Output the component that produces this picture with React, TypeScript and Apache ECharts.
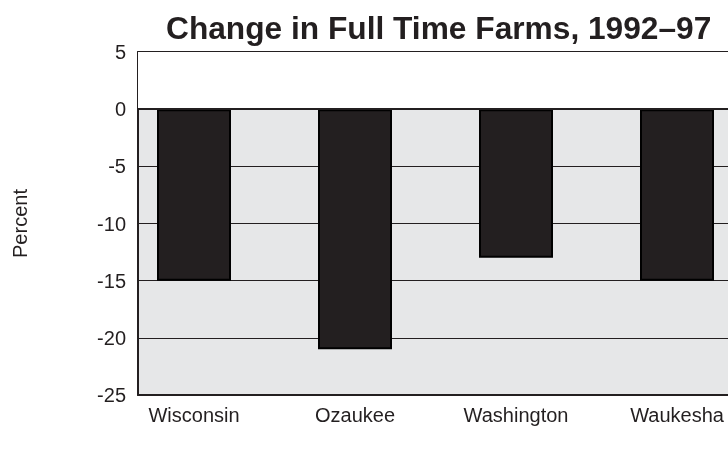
import React, { useEffect, useRef } from "react";
import * as echarts from "echarts";

const titleText = "Change in Full Time Farms, 1992–97";
const categories = ["Wisconsin", "Ozaukee", "Washington", "Waukesha"];
const values = [-15, -21, -13, -15];
const yMin = -25;
const yMax = 5;
const yStep = 5;

export default function App() {
  const ref = useRef<HTMLDivElement>(null);
  useEffect(() => {
    if (!ref.current) return;
    const chart = echarts.init(ref.current, undefined, { renderer: "svg" });
    const xMin = -56 / 161;
    const xMax = xMin + 590 / 161;
    const font = "'Liberation Sans', Arial, sans-serif";
    const dark = "#231f20";
    chart.setOption({
      animation: false,
      textStyle: { fontFamily: font },
      title: {
        text: titleText,
        left: 161,
        top: 7,
        textStyle: { fontSize: 31.7, fontWeight: "bold", color: dark, fontFamily: font },
      },
      grid: {
        left: 138,
        top: 52,
        right: 0,
        bottom: 61,
        show: true,
        backgroundColor: "#e6e7e8",
        borderWidth: 0,
      },
      xAxis: [
        {
          type: "value",
          min: xMin,
          max: xMax,
          position: "bottom",
          axisLine: { show: true, onZero: false, lineStyle: { color: dark, width: 2 } },
          axisTick: { show: false },
          splitLine: { show: false },
          axisLabel: {
            customValues: categories.map((_, i) => i),
            formatter: (v: number) => categories[Math.round(v)] ?? "",
            fontSize: 20,
            color: dark,
            margin: 10,
            fontFamily: font,
          },
        },
        {
          type: "value",
          min: xMin,
          max: xMax,
          position: "top",
          axisLine: { show: true, onZero: false, lineStyle: { color: dark, width: 2 } },
          axisTick: { show: false },
          splitLine: { show: false },
          axisLabel: { show: false },
        },
      ],
      yAxis: {
        type: "value",
        min: yMin,
        max: yMax,
        interval: yStep,
        name: "Percent",
        nameLocation: "middle",
        nameGap: 108,
        nameTextStyle: { fontSize: 20, color: dark, fontFamily: font },
        axisLine: { show: true, onZero: false, lineStyle: { color: dark, width: 2 } },
        axisTick: { show: false },
        axisLabel: { fontSize: 20, color: dark, margin: 12, fontFamily: font },
        splitLine: { show: true, lineStyle: { color: dark, width: 1 } },
      },
      series: [
        {
          type: "bar",
          xAxisIndex: 0,
          data: values.map((v, i) => [i, v]),
          barWidth: 74,
          itemStyle: { color: dark, borderColor: "#000", borderWidth: 2 },
          markArea: {
            silent: true,
            itemStyle: { color: "#ffffff" },
            data: [[{ yAxis: 0 }, { yAxis: yMax }]],
          },
          markLine: {
            silent: true,
            symbol: "none",
            label: { show: false },
            lineStyle: { color: dark, width: 2, type: "solid" },
            data: [{ yAxis: 0 }],
          },
        },
      ],
    });
    return () => chart.dispose();
  }, []);
  return (
    <div
      ref={ref}
      style={{ position: "fixed", left: 0, top: 0, width: 728, height: 456 }}
    />
  );
}
